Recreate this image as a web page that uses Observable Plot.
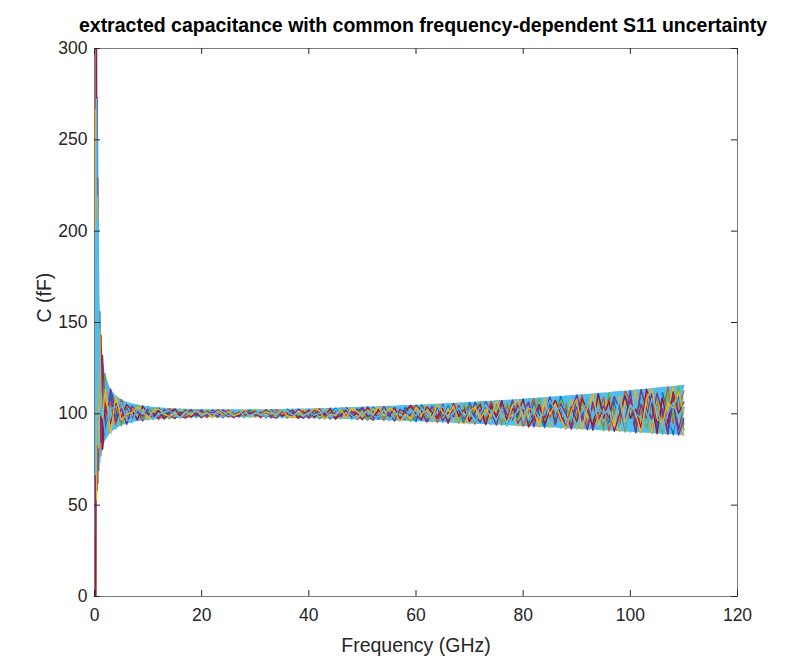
<!DOCTYPE html>
<html><head><meta charset="utf-8">
<script src="https://cdn.jsdelivr.net/npm/d3@7"></script>
<script src="https://cdn.jsdelivr.net/npm/@observablehq/plot@0.6"></script>
<style>body{margin:0;background:#fff}</style>
</head><body><div id="chart"></div>
<script>
const titleText = "extracted capacitance with common frequency-dependent S11 uncertainty";
const xLabel = "Frequency (GHz)";
const yLabel = "C (fF)";
const xTicks = [0, 20, 40, 60, 80, 100, 120];
const yTicks = [0, 50, 100, 150, 200, 250, 300];

// frequency grid (GHz)
const freq = [0.05,0.1,0.2,0.3,0.4,0.5,0.6,0.7,0.8,1,1.2,1.5,
  2,3,4,5,6,7,8,9,10,11,12,13,14,15,16,17,18,19,20,21,22,23,24,25,26,27,28,29,30,
  31,32,33,34,35,36,37,38,39,40,41,42,43,44,45,46,47,48,49,50,51,52,53,54,55,56,57,58,59,60,
  61,62,63,64,65,66,67,68,69,70,71,72,73,74,75,76,77,78,79,80,81,82,83,84,85,86,87,88,89,90,
  91,92,93,94,95,96,97,98,99,100,101,102,103,104,105,106,107,108,109,110];

// upper edge of the spread of extracted C (fF)
const upperC = [300,300,300,300,300,300,250,206,182,156,143,132,
  122.0,113.6,109.9,107.8,106.4,105.5,104.8,104.3,103.9,103.5,103.3,103.0,102.9,102.7,102.6,102.5,102.4,102.3,102.3,
  102.2,102.2,102.2,102.2,102.2,102.2,102.2,102.2,102.2,102.2,
  102.3,102.3,102.3,102.4,102.4,102.5,102.5,102.6,102.6,102.7,
  102.8,102.9,102.9,103.0,103.1,103.2,103.3,103.4,103.5,103.6,
  103.7,103.8,103.9,104.0,104.1,104.2,104.4,104.5,104.6,104.7,
  104.9,105.0,105.2,105.3,105.4,105.6,105.7,105.9,106.1,106.2,
  106.4,106.6,106.7,106.9,107.1,107.3,107.4,107.6,107.8,108.0,
  108.2,108.4,108.6,108.8,109.1,109.3,109.5,109.7,109.9,110.2,
  110.4,110.6,110.9,111.1,111.4,111.6,111.9,112.2,112.4,112.7,
  113.0,113.2,113.5,113.8,114.1,114.4,114.7,115.0,115.3,115.6];

// lower edge of the spread of extracted C (fF)
const lowerC = [0,0,0,0,53,58,62,66,69,73.5,77,80.6,
  84.7,89.3,91.7,93.3,94.3,95.1,95.6,96.1,96.4,96.7,96.9,97.1,97.3,97.4,97.5,97.6,97.7,97.8,97.8,
  97.8,97.9,97.9,97.9,97.9,97.9,97.9,97.9,97.9,97.9,
  97.8,97.8,97.8,97.7,97.7,97.6,97.6,97.5,97.5,97.4,
  97.4,97.3,97.2,97.2,97.1,97.0,96.9,96.8,96.8,96.7,
  96.6,96.5,96.4,96.3,96.2,96.1,96.0,95.9,95.8,95.7,
  95.6,95.4,95.3,95.2,95.1,95.0,94.8,94.7,94.6,94.5,
  94.3,94.2,94.1,93.9,93.8,93.7,93.5,93.4,93.2,93.1,
  92.9,92.8,92.6,92.5,92.3,92.2,92.0,91.9,91.7,91.5,
  91.4,91.2,91.1,90.9,90.7,90.6,90.4,90.2,90.0,89.9,
  89.7,89.5,89.4,89.2,89.0,88.8,88.6,88.5,88.3,88.1];

// position of individual traces inside the spread (0 = lower edge, 9 = upper edge)
const trace1 = [5,9,1,7,3,8,2,6,0,9, 4,7,1,8,3,9,0,6,2,8, 5,1,9,3,7,0,6,2,8,4, 9,1,5,7,2,8,0,6,3,9, 1,7,4,0,8,2,9,5,1,6, 3,8,0,7,4,9,2,6,1,8, 5,0,9,3,7,1,6,2,8,4, 0,9,5,1,7,3,8,2,6,0, 9,4,1,7,2,8,5,0,6,3, 9,1,8,4,0,7,2,9,5,1, 6,3,8,0,9,4,2,7,1,8, 5,0,9,3,6,1,8,4,0,7, 2];
const trace2 = [2,6,9,0,4,8,1,5,7,3, 0,8,4,6,1,9,3,7,5,2, 8,4,0,6,9,2,5,1,7,3, 6,0,8,2,4,9,1,7,3,5, 8,2,6,0,9,3,7,4,1,8, 0,5,9,2,6,1,8,3,7,0, 4,9,2,6,0,8,3,5,1,9, 7,2,4,8,0,6,1,9,3,5, 8,0,6,2,9,4,1,7,3,8, 0,5,9,1,6,3,8,2,7,0, 4,9,1,6,3,8,0,5,2,9, 7,1,4,8,0,6,3,9,2,5, 8];
const trace3 = [7,0,4,9,2,5,8,1,6,3, 9,2,6,0,8,4,1,7,3,9, 0,6,2,8,4,1,9,5,0,7, 3,8,1,5,9,0,4,8,2,6, 0,9,3,7,1,5,8,0,4,9, 2,6,1,9,3,7,0,5,8,2, 6,1,8,4,9,0,7,3,5,1, 8,3,9,0,5,2,7,1,9,4, 0,7,3,8,1,6,9,2,4,0, 8,3,6,1,9,0,5,7,2,8, 0,6,3,9,1,5,8,2,0,7, 4,9,2,6,0,8,1,5,9,3, 0];
const trace4 = [1,8,6,3,9,0,5,7,2,4, 8,0,3,9,5,1,7,2,6,0, 9,3,7,1,5,8,2,0,4,9, 6,2,9,4,0,7,3,1,8,5, 2,6,0,9,4,8,1,6,3,0, 7,4,8,1,5,0,9,2,6,4, 9,3,0,7,2,5,8,1,6,9, 2,5,1,8,3,9,0,6,4,7, 1,9,5,0,8,3,6,2,9,1, 4,8,0,7,2,9,3,6,0,5, 9,2,7,0,5,1,8,4,6,2, 9,0,6,3,8,2,5,0,7,1, 5];
const trace5 = [4,2,8,5,1,7,0,9,3,6, 2,5,9,1,7,0,8,4,9,1, 6,8,3,5,0,7,4,9,1,6, 2,9,4,0,6,3,8,5,0,7, 9,1,5,8,2,6,0,9,3,5, 1,7,4,0,8,3,6,9,2,4, 7,0,5,8,1,9,2,6,4,0, 5,8,2,6,9,1,4,7,0,8, 3,6,9,1,4,7,0,8,5,2, 7,0,4,9,2,5,1,8,6,3, 1,7,5,2,8,0,9,4,7,0, 6,3,9,1,5,7,0,8,3,9, 1];
const trace6 = [8,3,0,6,7,1,9,4,5,0, 6,3,8,2,0,6,9,1,4,7, 3,0,5,9,2,6,8,3,5,0, 8,4,7,3,1,5,9,2,7,0, 4,8,2,5,7,0,3,8,6,2, 9,0,6,4,2,8,1,7,0,6, 3,8,6,2,4,7,0,9,3,5, 6,1,7,3,8,0,5,2,8,6, 4,2,8,5,0,9,3,4,1,7, 2,9,3,6,8,1,4,0,9,5, 3,1,8,4,5,2,6,9,1,3, 0,6,8,4,2,9,7,3,1,6, 9];
const trace7 = [3,7,0,9,5,2,8,1,6,4, 9,0,5,2,7,3,8,6,1,9, 4,2,7,0,6,9,3,8,1,5, 0,7,3,9,5,1,6,2,8,4, 7,0,9,3,6,2,5,8,0,4, 8,1,6,3,9,0,4,7,2,5, 0,9,2,7,5,3,8,1,6,9, 4,1,8,5,2,7,0,9,3,6, 1,5,8,0,7,3,9,2,6,4, 9,0,3,7,1,5,8,4,0,6, 2,8,5,1,9,3,7,0,4,8, 3,5,1,9,6,0,7,2,8,4, 6];
const trace8 = [6,1,9,2,8,4,0,7,3,5, 1,9,4,7,2,6,0,8,5,3, 7,5,1,8,3,0,6,4,9,2, 8,3,6,1,9,4,0,7,2,6, 3,5,8,1,0,7,4,2,9,6, 1,8,3,5,0,6,2,9,4,7, 8,2,6,1,9,4,0,7,5,3, 9,6,0,4,7,1,5,3,8,2, 6,3,1,9,5,0,8,4,2,7, 5,8,2,6,3,9,1,7,4,0, 9,4,0,7,2,6,3,8,5,1, 7,2,9,5,3,8,4,1,6,0, 3];
const trace9 = [9,4,3,8,0,6,7,2,1,8, 5,3,7,0,9,2,4,5,8,6, 1,7,8,4,2,5,0,6,3,9, 4,6,0,8,3,7,2,5,9,1, 6,3,7,4,5,9,2,1,7,3, 5,9,7,0,4,3,8,1,9,6, 2,7,4,9,3,8,6,0,4,2, 8,4,6,2,9,5,3,8,1,0, 5,7,2,6,3,9,4,1,7,9, 3,6,5,0,8,4,7,3,0,5, 8,0,6,9,2,4,5,1,8,2, 6,4,0,7,9,3,2,6,5,8, 4];
const trace10 = [5,6,2,4,8,3,1,9,7,5, 3,4,1,5,6,8,2,0,7,4, 9,1,4,6,7,3,1,7,5,8, 2,5,4,6,7,2,5,9,1,3, 5,4,1,6,3,8,7,3,5,2, 6,3,5,7,1,4,9,8,3,1, 5,6,3,2,7,0,5,4,2,7, 3,7,4,1,6,8,2,5,7,3, 6,1,4,8,5,2,6,0,3,5, 7,2,6,3,4,8,5,6,2,4, 1,5,7,3,6,4,5,3,7,1, 6,4,3,2,7,5,1,4,6,3, 5];
const traces = [trace1, trace2, trace3, trace4, trace5, trace6, trace7, trace8, trace9, trace10];
const traceColors = ["#0072BD", "#D95319", "#EDB120", "#7E2F8E", "#77AC30", "#4DBEEE", "#A2142F", "#7E2F8E", "#EDB120", "#4DBEEE"];
const fillColor = "#4DBEEE";

const band = freq.map((f, i) => ({f, lo: lowerC[i], hi: upperC[i]}));
const traceRows = traces.map(t => t.map((d, i) => ({f: freq[i], c: lowerC[i] + (upperC[i] - lowerC[i]) * d / 9})));

const W = 788, H = 661, mL = 94, mR = 51, mT = 48, mB = 65;
const fw = W - mL - mR, fh = H - mT - mB, tk = 6;
const axisColor = "#262626";

const chart = Plot.plot({
  width: W, height: H,
  marginLeft: mL, marginRight: mR, marginTop: mT, marginBottom: mB,
  style: {fontFamily: "'Liberation Sans', Arial, Helvetica, sans-serif", color: axisColor, background: "#fff"},
  x: {domain: [0, 120]},
  y: {domain: [0, 300]},
  marks: [
    Plot.areaY(band, {x: "f", y1: "lo", y2: "hi", fill: fillColor, clip: true}),
    ...traceRows.map((rows, k) => Plot.line(rows, {x: "f", y: "c", stroke: traceColors[k], strokeWidth: 1.3, clip: true})),
    Plot.frame({stroke: "#7a7a7a", strokeWidth: 1}),
    Plot.tickY(yTicks, {y: d => d, insetRight: fw - tk, stroke: axisColor}),
    Plot.tickY(yTicks, {y: d => d, insetLeft: fw - tk, stroke: axisColor}),
    Plot.tickX(xTicks, {x: d => d, insetTop: fh - tk, stroke: axisColor}),
    Plot.tickX(xTicks, {x: d => d, insetBottom: fh - tk, stroke: axisColor}),
    Plot.axisX({ticks: xTicks, tickSize: 0, tickPadding: 12, fontSize: 17.5, label: null, tickFormat: d => d}),
    Plot.axisY({ticks: yTicks, tickSize: 0, tickPadding: 7, fontSize: 17.5, label: null, tickFormat: d => d}),
    Plot.text([xLabel], {frameAnchor: "bottom", dy: 55, fontSize: 19.5, fill: axisColor}),
    Plot.text([yLabel], {frameAnchor: "left", dx: -50, rotate: -90, fontSize: 19.5, fill: axisColor}),
    Plot.text([titleText], {frameAnchor: "top", dy: -30, dx: 7, fontSize: 19.5, fontWeight: "bold", fill: "#000"})
  ]
});
document.getElementById("chart").appendChild(chart);
</script>
</body></html>
